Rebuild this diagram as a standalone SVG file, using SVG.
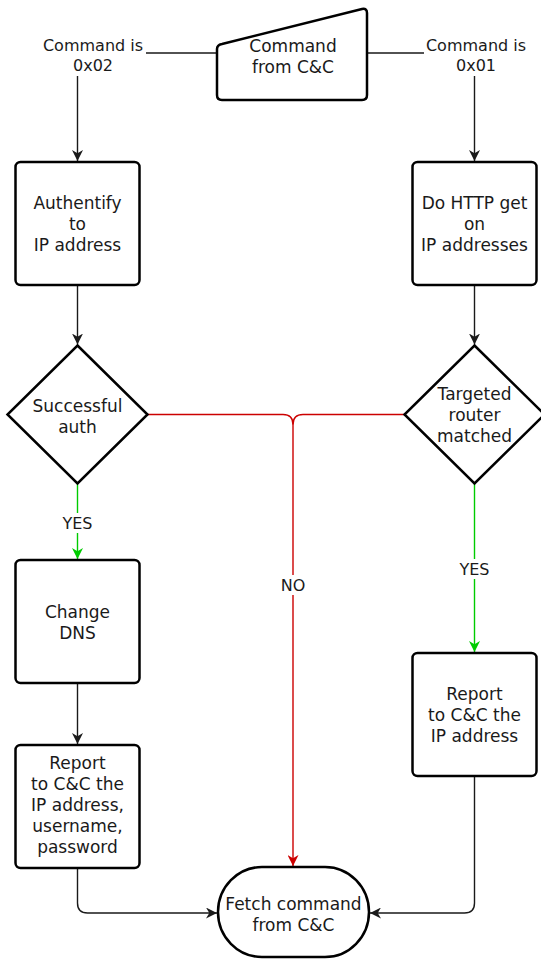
<svg xmlns="http://www.w3.org/2000/svg" width="541" height="961" viewBox="0 0 541 961">
<style>
.n{fill:#fff;stroke:#000;stroke-width:2.5}
.t{font-family:"DejaVu Sans",sans-serif;font-size:17px;fill:#1a1a1a;text-anchor:middle}
.l{font-family:"DejaVu Sans",sans-serif;font-size:16px;fill:#1a1a1a;text-anchor:middle}
.c{fill:none;stroke:#1a1a1a;stroke-width:1.4}
.r{fill:none;stroke:#cc0000;stroke-width:1.4}
.g{fill:none;stroke:#00cc00;stroke-width:1.4}
.bg{fill:#fff;stroke:none}
</style>
<defs>
<marker id="ak" viewBox="0 0 10 10" refX="10" refY="5" markerWidth="11" markerHeight="11" markerUnits="userSpaceOnUse" orient="auto"><path d="M0,0 L10,5 L0,10 L3,5 z" fill="#1a1a1a"/></marker>
<marker id="ar" viewBox="0 0 10 10" refX="10" refY="5" markerWidth="11" markerHeight="11" markerUnits="userSpaceOnUse" orient="auto"><path d="M0,0 L10,5 L0,10 L3,5 z" fill="#cc0000"/></marker>
<marker id="ag" viewBox="0 0 10 10" refX="10" refY="5" markerWidth="11" markerHeight="11" markerUnits="userSpaceOnUse" orient="auto"><path d="M0,0 L10,5 L0,10 L3,5 z" fill="#00cc00"/></marker>
</defs>
<g id="connectors">
<path class="c" d="M217,53 H77.5 V161" marker-end="url(#ak)"/>
<path class="c" d="M367,53 H474.5 V161" marker-end="url(#ak)"/>
<path class="c" d="M77.5,285 V344.5" marker-end="url(#ak)"/>
<path class="c" d="M474.5,285 V344.5" marker-end="url(#ak)"/>
<path class="g" d="M77.5,484 V559" marker-end="url(#ag)"/>
<path class="g" d="M474.5,484 V652" marker-end="url(#ag)"/>
<path class="r" d="M147.5,414.5 H283 Q293,414.5 293,424.5 V866" marker-end="url(#ar)"/>
<path class="r" d="M404.5,414.5 H303 Q293,414.5 293,424.5"/>
<path class="c" d="M77.5,683 V744" marker-end="url(#ak)"/>
<path class="c" d="M77.5,868 V903 Q77.5,913 87.5,913 H217" marker-end="url(#ak)"/>
<path class="c" d="M474.5,776 V903 Q474.5,913 464.5,913 H370" marker-end="url(#ak)"/>
<g id="label-cmd02"><rect class="bg" x="41" y="36" width="105" height="40"/><text class="l" x="93" y="51">Command is</text><text class="l" x="93" y="71">0x02</text></g>
<g id="label-cmd01"><rect class="bg" x="424" y="36" width="105" height="40"/><text class="l" x="476" y="51">Command is</text><text class="l" x="476" y="71">0x01</text></g>
<g id="label-yes1"><rect class="bg" x="60" y="513" width="35" height="20"/><text class="l" x="77.5" y="529">YES</text></g>
<g id="label-yes2"><rect class="bg" x="457" y="559" width="35" height="20"/><text class="l" x="474.5" y="575">YES</text></g>
<g id="label-no"><rect class="bg" x="279" y="575" width="28" height="20"/><text class="l" x="293" y="591">NO</text></g>
</g>
<g id="cmd-from-cc">
<path class="n" d="M222,44 L362,9 Q367,8 367,13 V95 Q367,100 362,100 H222 Q217,100 217,95 V49 Q217,45 222,44 Z"/>
<text class="t" x="293" y="52">Command</text><text class="t" x="293" y="73">from C&amp;C</text>
</g>
<g id="authentify">
<rect class="n" x="15.5" y="162" width="124" height="123" rx="5"/>
<text class="t" x="77.5" y="209">Authentify</text><text class="t" x="77.5" y="230">to</text><text class="t" x="77.5" y="251">IP address</text>
</g>
<g id="http-get">
<rect class="n" x="412.5" y="162" width="124" height="123" rx="5"/>
<text class="t" x="474.5" y="209">Do HTTP get</text><text class="t" x="474.5" y="230">on</text><text class="t" x="474.5" y="251">IP addresses</text>
</g>
<g id="successful-auth">
<path class="n" d="M77.5,345.5 L147.5,414.5 L77.5,483.5 L7.5,414.5 Z"/>
<text class="t" x="77.5" y="412">Successful</text><text class="t" x="77.5" y="433">auth</text>
</g>
<g id="router-matched">
<path class="n" d="M474.5,345.5 L544.5,414.5 L474.5,483.5 L404.5,414.5 Z"/>
<text class="t" x="474.5" y="400">Targeted</text><text class="t" x="474.5" y="421">router</text><text class="t" x="474.5" y="442">matched</text>
</g>
<g id="change-dns">
<rect class="n" x="15.5" y="560" width="124" height="123" rx="5"/>
<text class="t" x="77.5" y="618">Change</text><text class="t" x="77.5" y="639">DNS</text>
</g>
<g id="report-left">
<rect class="n" x="15.5" y="745" width="124" height="123" rx="5"/>
<text class="t" x="77.5" y="769">Report</text><text class="t" x="77.5" y="790">to C&amp;C the</text><text class="t" x="77.5" y="811">IP address,</text><text class="t" x="77.5" y="832">username,</text><text class="t" x="77.5" y="853">password</text>
</g>
<g id="report-right">
<rect class="n" x="412.5" y="653" width="124" height="123" rx="5"/>
<text class="t" x="474.5" y="700">Report</text><text class="t" x="474.5" y="721">to C&amp;C the</text><text class="t" x="474.5" y="742">IP address</text>
</g>
<g id="fetch">
<rect class="n" x="218" y="867" width="151" height="90" rx="44" ry="45"/>
<text class="t" x="293.5" y="910">Fetch command</text><text class="t" x="293.5" y="931">from C&amp;C</text>
</g>
</svg>
